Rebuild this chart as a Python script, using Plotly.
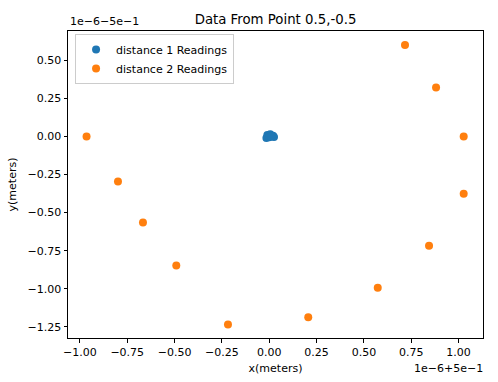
import plotly.graph_objects as go

# Offsets shown by the axis offset labels (values are in units of 1e-6 around these)
x_offset_label = "1e\u22126+5e\u22121"
y_offset_label = "1e\u22126\u22125e\u22121"

# distance 1 readings (units of 1e-6, relative to 0.5 / -0.5)
d1_x = [0.0, -0.01, 0.005, 0.02, 0.025, -0.015, 0.0, 0.01]
d1_y = [0.0, 0.01, 0.015, 0.005, -0.002, -0.01, -0.005, 0.0]

# distance 2 readings
d2_x = [-0.965, -0.799, -0.667, -0.491, -0.218, 0.206, 0.573, 0.844, 1.027, 1.027, 0.881, 0.717]
d2_y = [0.0, -0.295, -0.565, -0.847, -1.236, -1.188, -0.993, -0.718, -0.376, 0.0, 0.322, 0.602]

x_ticks = [-1.0, -0.75, -0.5, -0.25, 0.0, 0.25, 0.5, 0.75, 1.0]
y_ticks = [-1.25, -1.0, -0.75, -0.5, -0.25, 0.0, 0.25, 0.5]

FONT = "DejaVu Sans"
fig = go.Figure()
fig.add_trace(go.Scatter(x=d1_x, y=d1_y, mode="markers", name="distance 1 Readings",
                         marker=dict(color="#1f77b4", size=8)))
fig.add_trace(go.Scatter(x=d2_x, y=d2_y, mode="markers", name="distance 2 Readings",
                         marker=dict(color="#ff7f0e", size=8)))

axis_common = dict(showgrid=False, zeroline=False, showline=True, mirror=True,
                   linecolor="black", linewidth=1, ticks="outside", ticklen=3.5,
                   tickcolor="black", tickformat=".2f", automargin=False,
                   tickfont=dict(family=FONT, size=11, color="black"))

fig.update_layout(
    width=498, height=382,
    margin=dict(l=68, r=15, t=31, b=44, autoexpand=False),
    paper_bgcolor="white", plot_bgcolor="white",
    font=dict(family=FONT, size=11, color="black"),
    title=dict(text="Data From Point 0.5,-0.5", x=(68 + 483) / 2 / 498, xanchor="center",
               y=1 - 19 / 382, yanchor="middle",
               font=dict(family=FONT, size=13.3, color="black")),
    xaxis=dict(range=[-1.063, 1.129], tickvals=x_ticks,
               title=dict(text="x(meters)", standoff=6,
                          font=dict(family=FONT, size=11, color="black")),
               **axis_common),
    yaxis=dict(range=[-1.324, 0.694], tickvals=y_ticks,
               title=dict(text="y(meters)", standoff=8,
                          font=dict(family=FONT, size=11, color="black")),
               **axis_common),
    legend=dict(x=0.017, y=0.99, xanchor="left", yanchor="top",
                bgcolor="rgba(255,255,255,0.8)", bordercolor="#cccccc", borderwidth=1,
                font=dict(family=FONT, size=11, color="black"),
                itemwidth=30, tracegroupgap=0),
    showlegend=True,
    annotations=[
        dict(text=y_offset_label, xref="paper", yref="paper", x=0, y=1, xanchor="left",
             yanchor="bottom", yshift=1, showarrow=False,
             font=dict(family=FONT, size=11, color="black")),
        dict(text=x_offset_label, xref="paper", yref="paper", x=1, y=0, xanchor="right",
             yanchor="top", yshift=-22, xshift=2, showarrow=False,
             font=dict(family=FONT, size=11, color="black")),
    ],
)

fig.write_html("out.html", config={"displayModeBar": False},
               post_script="document.body.style.margin='0px';document.body.style.padding='0px';")
